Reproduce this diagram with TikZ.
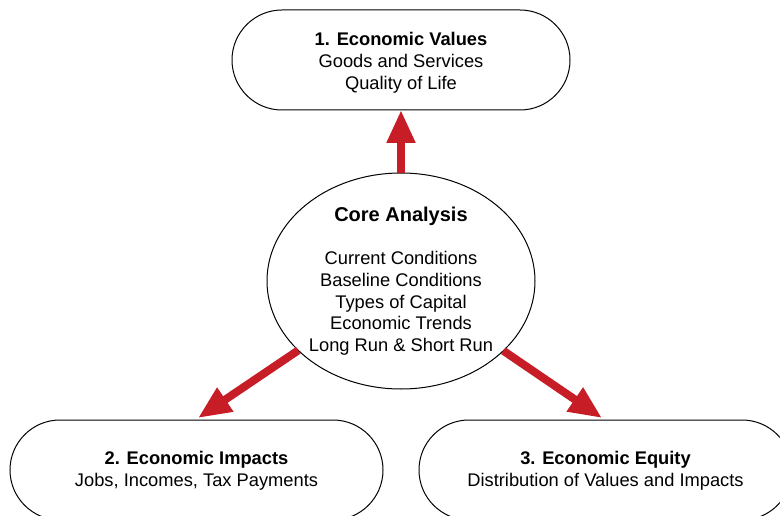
\documentclass[tikz,border=0pt]{standalone}
\usepackage{fontspec}
\setmainfont{Liberation Sans}
\usetikzlibrary{shapes.geometric,arrows.meta}
\definecolor{arrred}{RGB}{198,29,38}
\tikzset{
  pill/.style={draw=black, line width=1pt, rounded corners=50pt, minimum height=100pt, inner sep=0pt, outer sep=0pt, align=center, font=\fontsize{18.3}{21.7}\selectfont},
  core/.style={draw=black, line width=1pt, ellipse, minimum width=268pt, minimum height=216pt, inner sep=0pt, outer sep=0pt, align=center, font=\fontsize{18.3}{21.7}\selectfont},
  arr/.style={draw=arrred, line width=8pt, -{Triangle[length=33pt,width=27pt]}},
}
\begin{document}
\begin{tikzpicture}[x=1pt,y=-1pt]
\useasboundingbox (0,0) rectangle (780,516);
\node[pill, minimum width=338pt] (val) at (401,60) {\rule{0pt}{19pt}\textbf{1. Economic Values}\\Goods and Services\\Quality of Life};
\node[pill, minimum width=373pt] (imp) at (196.5,470) {\rule{0pt}{15pt}\textbf{2. Economic Impacts}\\Jobs, Incomes, Tax Payments};
\node[pill, minimum width=373pt] (eq) at (605.5,470) {\rule{0pt}{15pt}\textbf{3. Economic Equity}\\Distribution of Values and Impacts};
\node[core] (core) at (401,281) {{\fontsize{20}{21.7}\selectfont\textbf{Core Analysis}}\\[22pt]Current Conditions\\Baseline Conditions\\Types of Capital\\Economic Trends\\Long Run \& Short Run};
\coordinate (tipL) at (198,418);
\coordinate (tipR) at (602,418);
\draw[arr] (core) -- (val);
\draw[arr] (core) -- (tipL);
\draw[arr] (core) -- (tipR);
\end{tikzpicture}
\end{document}
